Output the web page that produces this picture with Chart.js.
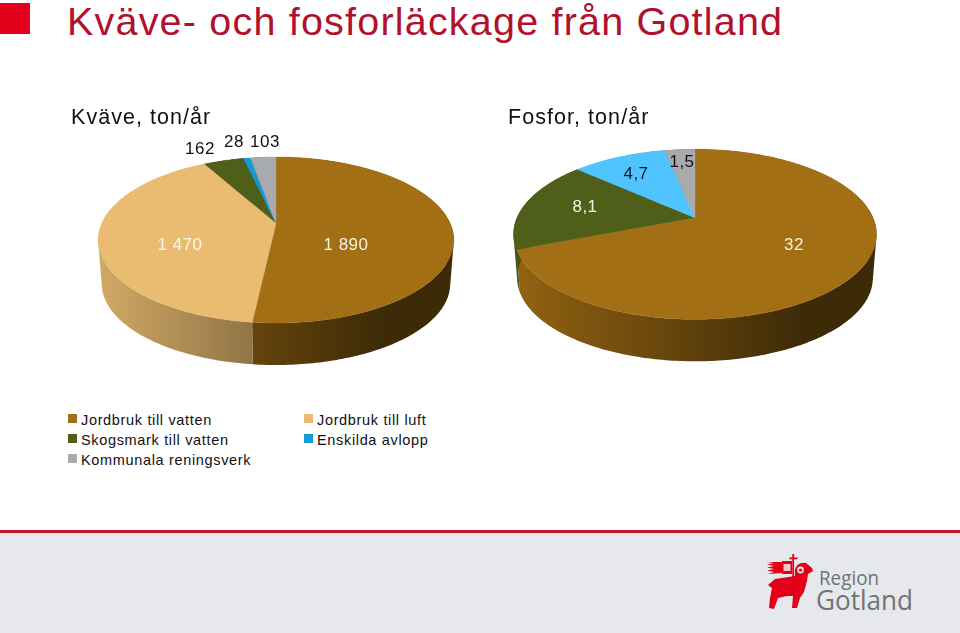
<!DOCTYPE html>
<html lang="sv"><head><meta charset="utf-8">
<script src="https://cdn.jsdelivr.net/npm/chart.js@4"></script>
<style>
html,body{margin:0;padding:0;background:#fff;width:960px;height:633px;overflow:hidden;font-family:"Liberation Sans",Arial,sans-serif}
#sq{position:absolute;left:0;top:3px;width:30px;height:31px;background:#E2001A}
#title{position:absolute;left:67px;top:-2px;font-size:39.5px;line-height:46px;color:#B0122E;white-space:nowrap;letter-spacing:1.2px}
canvas{position:absolute;top:100px}
#c1{left:0}#c2{left:480px}
#legend{position:absolute;left:68px;top:410px;width:420px;font-size:14.5px;line-height:20px;color:#111;letter-spacing:.66px}
#legend div{position:absolute;white-space:nowrap}
#legend i{display:inline-block;position:absolute;left:0;top:4px;width:9px;height:9px}
#legend span{margin-left:13px}
#foot{position:absolute;left:0;top:530px;width:960px;height:103px;background:#E6E8EB;border-top:3px solid #C4122B;box-sizing:border-box}
#logo{position:absolute;left:760px;top:545px}
</style></head><body>
<div id="sq"></div>
<div id="title">Kväve- och fosforläckage från Gotland</div>
<canvas id="c1" width="480" height="300"></canvas>
<canvas id="c2" width="480" height="300"></canvas>
<div id="legend"></div>
<div id="foot"></div>
<svg id="logo" width="170" height="75" viewBox="760 545 170 75">
<g fill="#E2001A">
<rect x="792.3" y="554" width="1.8" height="42"/><rect x="789.5" y="557.5" width="8" height="1.8"/>
<path d="M767 562l15 0 0 -1 10 0v13l-10 0 0-1-14 1 6-2-7-1.500 7-1.500-7-1.500 7-1.500-7-1.500 7-1.500z"/>
<path d="M795 576L775 579L768 585L772 588L770 598L769 608L774 609L778 598L787 596L793 596L792 608L797 608L800 598L804 592L807 581L808 574L813 571L812 568L806 563C800 562 796 565 795 570Z"/>
</g>
<rect x="783.500" y="564" width="7" height="7" fill="#F3C6CC"/>
<circle cx="800.500" cy="570" r="3.400" fill="#E6E8EB"/><circle cx="800.500" cy="570" r="1.600" fill="#E2001A"/>
<text x="819" y="585" font-family="Open Sans" font-size="20" fill="#6f7476" textLength="60" lengthAdjust="spacingAndGlyphs">Region</text>
<text x="816" y="610" font-family="Open Sans" font-size="27" fill="#6f7476" textLength="97" lengthAdjust="spacingAndGlyphs">Gotland</text>
</svg>
<script>
// Data
const categories = ["Jordbruk till vatten","Jordbruk till luft","Skogsmark till vatten","Enskilda avlopp","Kommunala reningsverk"];
const kvaveValues  = [1890,1470,162,28,103];
const kvaveLabels  = ["1 890","1 470","162","28","103"];
const fosforValues = [32,0,8.1,4.7,1.5];
const fosforLabels = ["32","","8,1","4,7","1,5"];
const kvaveColors  = ["#A36F14","#E9BC72","#4F5F1A","#129AD9","#A9AAAB"];
const fosforColors = ["#A36F14","#E9BC72","#4F5F1A","#50C4FF","#A9AAAB"];
const legendColors = ["#A36F14","#E9BC72","#4F5F1A","#129AD9","#A9AAAB"];

// Layout (canvas pixels)
const kvaveView  = {cx:276,cy:123,R:174,H:79.5,k:.205,labelXY:[[346,145],[180,145],[200,49],[234,42],[265,42]],
                    labelInk:["#F6F1E2","#FBF7EC","#111","#111","#111"]};
const fosforView = {cx:215,cy:117.7,R:178,H:81.8,k:.195,labelXY:[[314,145],null,[105,107],[156,74],[202,62]],
                    labelInk:["#F6F1E2","","#F6F1E2","#0b1a30","#111"]};
const wallStops = [[0,.9],[.44,.62],[.8,.38],[1,.38]];

function rgb(h,f){const n=parseInt(h.slice(1),16);return `rgb(${(n>>16)*f|0},${((n>>8)&255)*f|0},${(n&255)*f|0})`;}
const pie3d = {
  id:'pie3d',
  beforeDraw(chart){chart.ctx.letterSpacing='1.05px';},
  beforeDatasetsDraw(chart,args,o){
    const v=o.view,ctx=chart.ctx,arcs=chart.getDatasetMeta(0).data;
    const top=a=>{const u=Math.cos(a),w=Math.sin(a),d=1-v.k*w;return [v.cx+v.R*u/d,v.cy+v.H*w/d];};
    const low=p=>[v.cx+(p[0]-v.cx)*.98,v.cy+(p[1]-v.cy)*.98+44];
    const W=v.R/Math.sqrt(1-v.k*v.k);
    ctx.save();
    arcs.forEach(arc=>{
      if(arc.endAngle-arc.startAngle<1e-6)return;
      const n=Math.ceil((arc.endAngle-arc.startAngle)*60);const t=[];
      for(let i=0;i<=n;i++)t.push(top(arc.startAngle+(arc.endAngle-arc.startAngle)*i/n));
      const g=ctx.createLinearGradient(v.cx-W,0,v.cx+W,0);
      wallStops.forEach(s=>g.addColorStop(s[0],rgb(arc.options.backgroundColor,s[1])));
      ctx.fillStyle=g;
      ctx.beginPath();
      for(let i=0;i<n;i++){
        let q=[t[i],t[i+1],low(t[i+1]),low(t[i])];
        const cross=(q[1][0]-q[0][0])*(q[2][1]-q[0][1])-(q[1][1]-q[0][1])*(q[2][0]-q[0][0]);
        if(cross<0)q=q.reverse();
        ctx.moveTo(q[0][0],q[0][1]);ctx.lineTo(q[1][0],q[1][1]);ctx.lineTo(q[2][0],q[2][1]);ctx.lineTo(q[3][0],q[3][1]);ctx.closePath();
      }
      ctx.fill('nonzero');
    });
    arcs.forEach(arc=>{
      if(arc.endAngle-arc.startAngle<1e-6)return;
      const n=Math.ceil((arc.endAngle-arc.startAngle)*60);
      ctx.fillStyle=arc.options.backgroundColor;ctx.strokeStyle=arc.options.backgroundColor;ctx.lineWidth=.4;
      ctx.beginPath();ctx.moveTo(v.cx,v.cy);
      for(let i=0;i<=n;i++){const p=top(arc.startAngle+(arc.endAngle-arc.startAngle)*i/n);ctx.lineTo(p[0],p[1]);}
      ctx.closePath();ctx.fill();ctx.stroke();
    });
    ctx.font='17px "Liberation Sans"';ctx.textAlign='center';ctx.textBaseline='middle';ctx.letterSpacing='.5px';
    o.texts.forEach((s,i)=>{if(!s)return;ctx.fillStyle=v.labelInk[i];ctx.fillText(s,v.labelXY[i][0],v.labelXY[i][1]);});
    ctx.restore();
    return false;
  }
};
function make(id,values,colors,texts,view,heading,padLeft){
  new Chart(document.getElementById(id),{
    type:'pie',
    data:{labels:categories,datasets:[{data:values,backgroundColor:colors,borderWidth:0}]},
    plugins:[pie3d],
    options:{responsive:false,animation:false,
      layout:{padding:{left:padLeft}},
      plugins:{legend:{display:false},tooltip:{enabled:false},
        title:{display:true,text:heading,align:'start',color:'#111',font:{family:'Liberation Sans',size:21.5,weight:'normal'},padding:{top:5,bottom:0}},
        pie3d:{view,texts}}}
  });
}
make('c1',kvaveValues,kvaveColors,kvaveLabels,kvaveView,'Kväve, ton/år',71);
make('c2',fosforValues,fosforColors,fosforLabels,fosforView,'Fosfor, ton/år',28);

const legendXY=[[0,0],[236,0],[0,20],[236,20],[0,40]];
document.getElementById('legend').innerHTML=categories.map((c,i)=>
 `<div style="left:${legendXY[i][0]}px;top:${legendXY[i][1]}px"><i style="background:${legendColors[i]}"></i><span>${c}</span></div>`).join('');
</script>
</body></html>
